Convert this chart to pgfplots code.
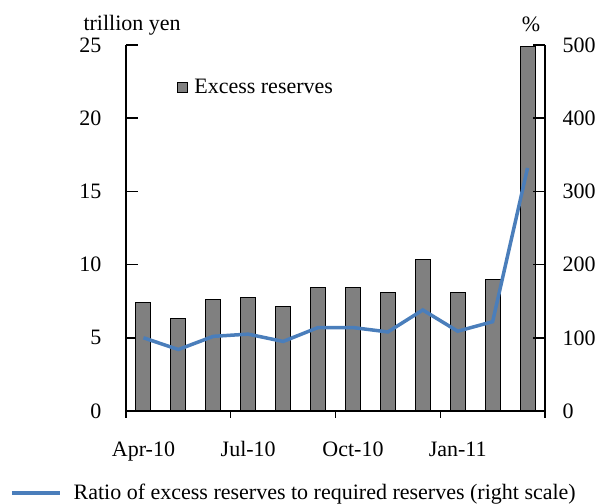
\documentclass[border=0pt]{standalone}
\usepackage{pgfplots}
\pgfplotsset{compat=1.18}
\usepackage{fontspec}
\setmainfont{Liberation Serif}
\definecolor{barfill}{RGB}{128,128,128}
\definecolor{ratioblue}{RGB}{74,126,187}
\newcommand{\chartfont}{\fontsize{22bp}{26bp}\selectfont}

\begin{document}
\begin{tikzpicture}[font=\chartfont]
\useasboundingbox (0,0) rectangle (604bp,504bp);
\pgfplotsset{
  base/.style={
    at={(126bp,93bp)}, anchor=south west,
    scale only axis, width=419bp, height=366bp,
    xmin=0.5, xmax=12.5,
    axis line style={-, line width=1.2bp},
    /pgf/number format/assume math mode=true,
    tick label style={font=\chartfont},
    legend style={draw=none, fill=none, inner sep=0pt, font=\chartfont,
      nodes={inner sep=0pt}, /tikz/column sep=6bp},
  }
}
% left scale: excess reserves, trillion yen
\begin{axis}[base,
  axis y line*=left, axis x line*=bottom,
  ymin=0, ymax=25, ytick={0,5,...,25},
  xtick={1,4,7,10}, xticklabels={Apr-10,Jul-10,Oct-10,Jan-11},
  tick align=inside,
  major tick length=12bp,
  minor tick length=7bp,
  ytick style={draw=black, line width=1.5bp},
  major x tick style={draw=none},
  minor xtick={0.5,3.5,6.5,9.5,12.5},
  minor x tick style={draw=black, line width=1.3bp, yshift=-7bp},
  yticklabel style={xshift=-21bp},
  xticklabel style={yshift=-27bp},
  legend style={at={(rel axis cs:0.122,0.884)}, anchor=west},
]
\addplot[ybar, bar width=15bp, fill=barfill, draw=black, line width=1bp,
  legend image code/.code={\draw[fill=barfill, draw=black, line width=1bp] (0bp,-5bp) rectangle (10bp,5bp);}]
  coordinates {
  (1,7.39) (2,6.30) (3,7.64) (4,7.78) (5,7.12) (6,8.46)
  (7,8.46) (8,8.08) (9,10.35) (10,8.08) (11,9.01) (12,24.9)
};
\addlegendentry{Excess reserves}
\end{axis}
% right scale: ratio in percent
\begin{axis}[base,
  axis y line*=right, axis x line=none,
  ymin=0, ymax=500, ytick={0,100,...,500},
  tick align=inside,
  major tick length=12bp,
  ytick style={draw=black, line width=1.5bp},
  yticklabel style={xshift=14bp},
  legend style={at={(rel axis cs:-0.277,-0.224)}, anchor=west, /tikz/column sep=12bp},
]
\addplot[ratioblue, line width=3.5bp,
  legend image code/.code={\draw[ratioblue, line width=3.5bp] (0bp,0bp) -- (48bp,0bp);}]
  coordinates {
  (1,100) (2,84) (3,102) (4,105) (5,95) (6,114)
  (7,114) (8,108) (9,138) (10,109) (11,122) (12,332)
};
\addlegendentry{Ratio of excess reserves to required reserves (right scale)}
\end{axis}
\node[anchor=base west] at (80bp,473bp) {trillion yen};
\node[anchor=base] at (531bp,472bp) {\%};
\end{tikzpicture}
\end{document}
